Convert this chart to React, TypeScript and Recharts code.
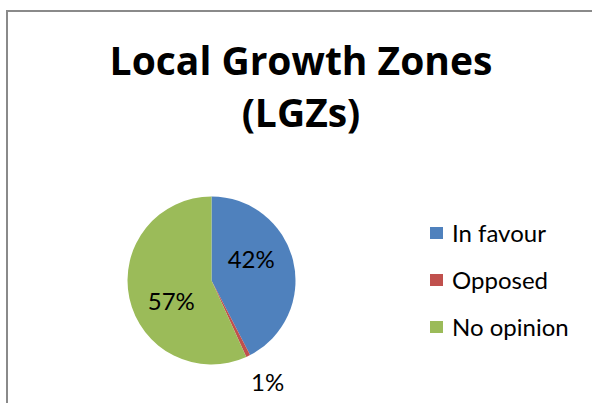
import React from 'react';
import { PieChart, Pie, Cell, Legend, Customized } from 'recharts';

const categories = ['In favour', 'Opposed', 'No opinion'];
const shares = [42.4, 0.8, 56.8];
const colors = ['#4F81BD', '#C0504D', '#9BBB59'];
const titleLines = ['Local Growth Zones', '(LGZs)'];

const data = categories.map((name, i) => ({ name, value: shares[i] }));

const FONT = 'Lato, "Open Sans", sans-serif';
const TITLE_FONT = '"Open Sans", Lato, sans-serif';
const RAD = Math.PI / 180;

const renderLabel = (props: any) => {
  const { cx, cy, midAngle, outerRadius, percent } = props;
  const outside = percent < 0.05;
  const angle = outside ? midAngle + 3 : midAngle + 14.5;
  const r = outside ? outerRadius + 32 : outerRadius * 0.536;
  const x = cx + r * Math.cos(-angle * RAD);
  const y = cy + r * Math.sin(-angle * RAD);
  return (
    <text
      x={x}
      y={y + 9}
      textAnchor="middle"
      fontSize={24}
      fill="#000"
      fontFamily={FONT}
    >
      {`${Math.round(percent * 100)}%`}
    </text>
  );
};

const Title = () => (
  <g>
    {titleLines.map((t, i) => (
      <text
        key={i}
        x={301}
        y={75 + i * 52}
        textAnchor="middle"
        fontSize={39}
        fontWeight={700}
        fill="#000"
        fontFamily={TITLE_FONT}
      >
        {t}
      </text>
    ))}
  </g>
);

const LegendContent = (props: any) => {
  const payload = [...(props.payload || [])].sort(
    (a: any, b: any) => categories.indexOf(a.value) - categories.indexOf(b.value)
  );
  return (
    <div style={{ fontFamily: FONT }}>
      {payload.map((p: any, i: number) => (
        <div
          key={i}
          style={{ display: 'flex', alignItems: 'center', height: 46.75 }}
        >
          <span
            style={{
              display: 'inline-block',
              width: 13,
              height: 12,
              background: p.color,
              marginRight: 9,
            }}
          />
          <span style={{ fontSize: 24, color: '#000', lineHeight: 1 }}>{p.value}</span>
        </div>
      ))}
    </div>
  );
};

export default function App() {
  return (
    <div style={{ position: 'absolute', left: 0, top: 0, width: 592, height: 403, background: '#fff', overflow: 'hidden' }}>
      <div
        style={{
          position: 'absolute',
          left: 6,
          top: 10,
          width: 600,
          height: 400,
          borderLeft: '2px solid #8a8a8a',
          borderTop: '2px solid #8a8a8a',
        }}
      />
      <div style={{ position: 'absolute', left: 0, top: 0 }}>
        <PieChart width={592} height={403} margin={{ top: 0, right: 0, bottom: 0, left: 0 }}>
          <Customized component={Title} />
          <Pie
            data={data}
            dataKey="value"
            nameKey="name"
            cx={211.5}
            cy={280.5}
            outerRadius={84}
            startAngle={90}
            endAngle={-270}
            stroke="none"
            labelLine={false}
            label={renderLabel}
            isAnimationActive={false}
          >
            {data.map((d, i) => (
              <Cell key={d.name} fill={colors[i]} />
            ))}
          </Pie>
          <Legend
            layout="vertical"
            align="right"
            verticalAlign="top"
            content={<LegendContent />}
            wrapperStyle={{ position: 'absolute', left: 430, top: 210, width: 160 }}
          />
        </PieChart>
      </div>
    </div>
  );
}
